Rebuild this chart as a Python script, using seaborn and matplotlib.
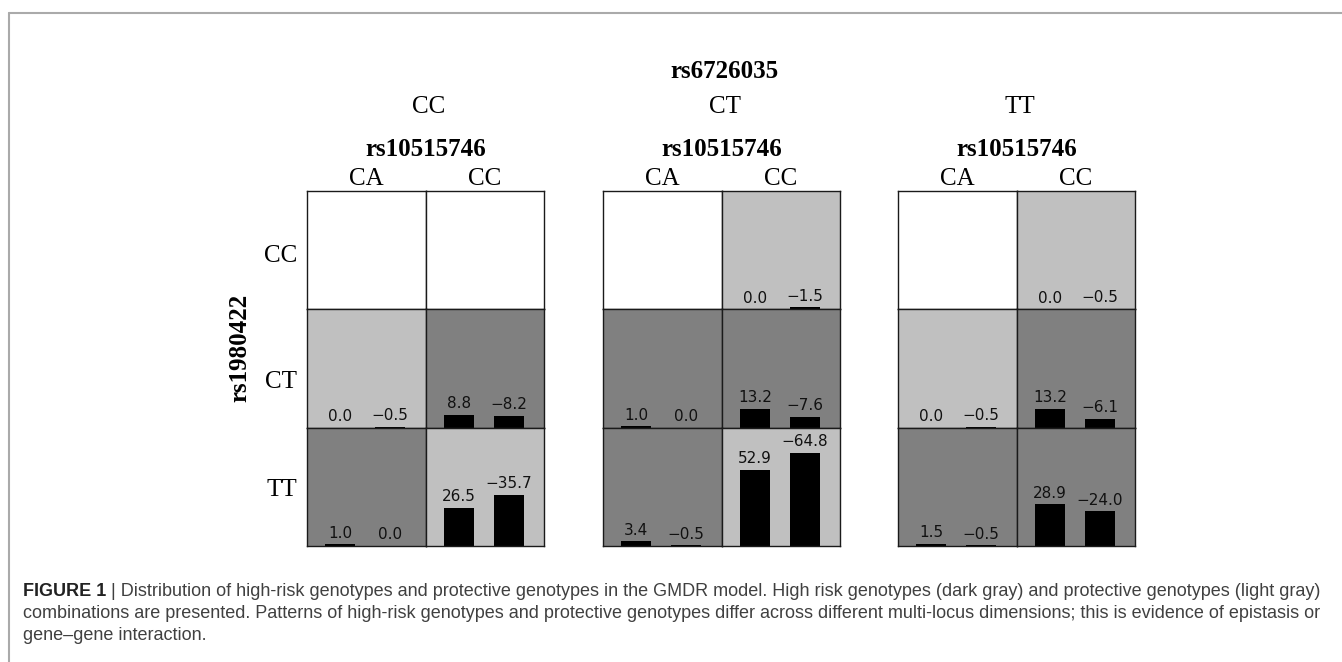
import matplotlib
matplotlib.use("Agg")
import matplotlib.pyplot as plt
import seaborn as sns
import pandas as pd
from matplotlib.lines import Line2D

sns.set_style("white")

# rs6726035 genotypes, one panel each
panel_genotypes = ["CC", "CT", "TT"]
# rs10515746 genotypes (columns inside a panel)
col_genotypes = ["CA", "CC"]
# rs1980422 genotypes (rows inside a panel)
row_genotypes = ["CC", "CT", "TT"]

# cell status: 0 = no data, 1 = protective (light gray), 2 = high risk (dark gray)
cell_status = [
    [[0, 0], [1, 2], [2, 1]],
    [[0, 1], [2, 2], [2, 1]],
    [[0, 1], [1, 2], [2, 2]],
]
# left / right bar values per cell, None where the cell is empty
left_values = [
    [[None, None], [0.0, 8.8], [1.0, 26.5]],
    [[None, 0.0], [1.0, 13.2], [3.4, 52.9]],
    [[None, 0.0], [0.0, 13.2], [1.5, 28.9]],
]
right_values = [
    [[None, None], [-0.5, -8.2], [0.0, -35.7]],
    [[None, -1.5], [0.0, -7.6], [-0.5, -64.8]],
    [[None, -0.5], [-0.5, -6.1], [-0.5, -24.0]],
]
status_colors = {0: "#ffffff", 1: "#c0c0c0", 2: "#808080"}

caption_lines = [
    "Distribution of high-risk genotypes and protective genotypes in the GMDR model. "
    "High risk genotypes (dark gray) and protective genotypes (light gray)",
    "combinations are presented. Patterns of high-risk genotypes and protective genotypes "
    "differ across different multi-locus dimensions; this is evidence of epistasis or",
    "gene\u2013gene interaction.",
]

W, H = 1342, 662
fig = plt.figure(figsize=(W / 100, H / 100), dpi=100)
fig.patch.set_facecolor("white")

panel_left = [307, 603, 898]
cell_w, cell_h, grid_top = 118.6, 118.3, 191
ymax = 82.4
serif = "Liberation Serif"


def fx(px):
    return px / W


def fy(py):
    return 1 - py / H


def fmt(v):
    return f"{v:.1f}".replace("-", "\u2212")


for p in range(3):
    for r in range(3):
        for c in range(2):
            x0 = panel_left[p] + c * cell_w
            y0 = grid_top + r * cell_h
            ax = fig.add_axes([fx(x0), fy(y0 + cell_h), cell_w / W, cell_h / H])
            ax.set_facecolor(status_colors[cell_status[p][r][c]])
            lv, rv = left_values[p][r][c], right_values[p][r][c]
            if lv is not None:
                df = pd.DataFrame({"group": ["left", "right"],
                                   "value": [lv, rv],
                                   "height": [abs(lv), abs(rv)]})
                sns.barplot(data=df, x="group", y="height", color="black",
                            saturation=1, width=0.6, errorbar=None,
                            edgecolor="black", linewidth=0, ax=ax)
                ax.bar_label(ax.containers[0], labels=[fmt(v) for v in df["value"]],
                             padding=2.5, fontsize=11, color="#111111",
                             family="DejaVu Sans")
            ax.set_xlim(-0.667, 1.714)
            ax.set_ylim(0, ymax)
            ax.set_xticks([])
            ax.set_yticks([])
            ax.set_xlabel("")
            ax.set_ylabel("")
            for s in ax.spines.values():
                s.set_visible(True)
                s.set_color("#1a1a1a")
                s.set_linewidth(1.0)

    cx = panel_left[p] + cell_w
    fig.text(fx(cx + 3), fy(107), panel_genotypes[p], ha="center", va="center",
             family=serif, fontsize=18, color="black")
    fig.text(fx(cx), fy(149), "rs10515746", ha="center", va="center",
             family=serif, fontsize=18, fontweight="bold", color="black")
    for c in range(2):
        fig.text(fx(panel_left[p] + (c + 0.5) * cell_w), fy(179), col_genotypes[c],
                 ha="center", va="center", family=serif, fontsize=18, color="black")

fig.text(fx(panel_left[1] + cell_w + 3), fy(72), "rs6726035", ha="center",
         va="center", family=serif, fontsize=18, fontweight="bold", color="black")

row_label_y = [256, 382, 490]
for r in range(3):
    fig.text(fx(297), fy(row_label_y[r]), row_genotypes[r], ha="right", va="center",
             family=serif, fontsize=18, color="black")
fig.text(fx(240), fy(348), "rs1980422", ha="center", va="center", rotation=90,
         family=serif, fontsize=18, fontweight="bold", color="black")

# frame lines of the figure box
fig.add_artist(Line2D([fx(9), 1], [fy(13), fy(13)], transform=fig.transFigure,
                      color="#aaaaaa", lw=1.5))
fig.add_artist(Line2D([fx(9), fx(9)], [fy(13), 0], transform=fig.transFigure,
                      color="#aaaaaa", lw=1.5))

# caption, sized so the first line spans the reference width
cap_family = "Liberation Sans"
cap_color = "#404040"
renderer = fig.canvas.get_renderer()
cap_size = 12.0
head = fig.text(fx(23), fy(591), "FIGURE 1", family=cap_family, fontweight="bold",
                fontsize=cap_size, color="#222222", va="center")
rest = fig.text(0, fy(591), " | " + caption_lines[0], family=cap_family,
                fontsize=cap_size, color=cap_color, va="center")
total = head.get_window_extent(renderer).width + rest.get_window_extent(renderer).width
cap_size = cap_size * (1322 - 23) / total
head.set_fontsize(cap_size)
rest.set_fontsize(cap_size)
rest.set_x(fx(23 + head.get_window_extent(renderer).width))
cap_y = [591, 613, 635]
for i in (1, 2):
    fig.text(fx(23), fy(cap_y[i]), caption_lines[i], family=cap_family,
             fontsize=cap_size, color=cap_color, va="center")

fig.savefig("out.png", dpi=100)
